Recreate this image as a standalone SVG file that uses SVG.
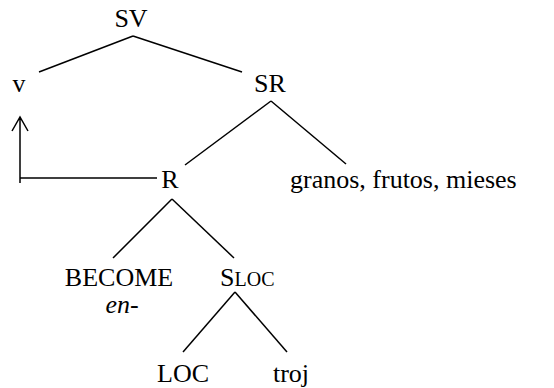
<svg xmlns="http://www.w3.org/2000/svg" width="554" height="388" viewBox="0 0 554 388">
<style>
text{font-family:"Liberation Serif","Times New Roman",serif;font-size:26px;fill:#000}
.c{text-anchor:middle}
.sc{font-size:20px}
line,path{stroke:#000;stroke-width:1.5;fill:none}
</style>
<rect width="554" height="388" fill="#fff"/>
<g id="connectors">
<line x1="133" y1="36" x2="39" y2="72"/>
<line x1="133" y1="36" x2="242" y2="72"/>
<line x1="271" y1="101" x2="185" y2="165"/>
<line x1="271" y1="101" x2="346" y2="164"/>
<line x1="172" y1="199" x2="113" y2="258"/>
<line x1="172" y1="199" x2="234" y2="258"/>
<line x1="235" y1="292" x2="183" y2="352"/>
<line x1="235" y1="292" x2="287" y2="352"/>
<path d="M20,183 V117 M20,178 H157 M12,131 L20,117 L28,131"/>
</g>
<g id="n-sv"><text class="c" x="131" y="27">SV</text></g>
<g id="n-v"><text class="c" x="19" y="92">v</text></g>
<g id="n-sr"><text class="c" x="270" y="92">SR</text></g>
<g id="n-r"><text class="c" x="170" y="188">R</text></g>
<g id="n-granos"><text x="290" y="188">granos, frutos, mieses</text></g>
<g id="n-become"><text class="c" x="119" y="286">BECOME</text><text class="c" x="122" y="313" font-style="italic">en-</text></g>
<g id="n-sloc"><text x="220" y="286">S<tspan class="sc">LOC</tspan></text></g>
<g id="n-loc"><text class="c" x="183" y="382">LOC</text></g>
<g id="n-troj"><text class="c" x="291" y="382">troj</text></g>
</svg>
